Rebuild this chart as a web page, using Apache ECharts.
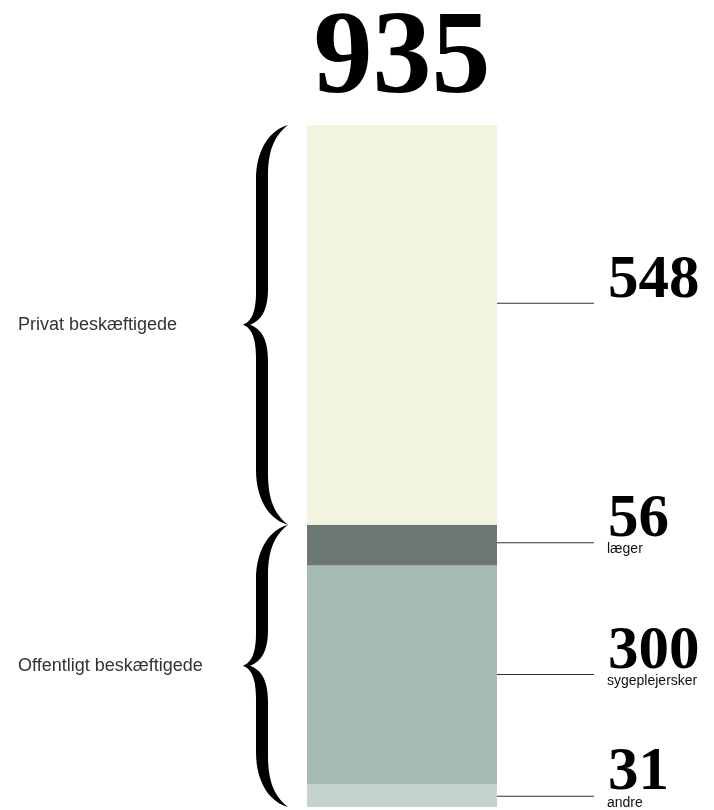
<!DOCTYPE html>
<html>
<head>
<meta charset="utf-8">
<script src="https://cdn.jsdelivr.net/npm/echarts@6/dist/echarts.min.js"></script>
<style>
  html, body { margin: 0; padding: 0; background: #fff; }
  #main { width: 714px; height: 810px; }
</style>
</head>
<body>
<div id="main"></div>
<script>
// data (bottom of the stack first)
const totalLabel = '935';
const segNames = ['andre', 'sygeplejersker', 'læger', 'privat'];
const segValues = [31, 300, 56, 548];
const segSubLabels = ['andre', 'sygeplejersker', 'læger', ''];
const groupNames = ['Offentligt beskæftigede', 'Privat beskæftigede'];
const groupSizes = [3, 1]; // how many segments each brace covers

// styles
const segColors = ['#c4d3cf', '#a5bab3', '#6b7872', '#f2f4e0'];
const labelOffsetY = [-16, -17, -19, -38];
const numFont = 'Liberation Serif';
const textFont = 'Liberation Sans';

// brace ranges [from, to] in value units, built from the segments
const groupRanges = [];
let acc = 0, k = 0;
groupSizes.forEach(function (n) {
  const from = acc;
  for (let j = 0; j < n; j++) acc += segValues[k++];
  groupRanges.push([from, acc]);
});

var myChart = echarts.init(document.getElementById('main'));

const series = segValues.map(function (v, i) {
  return {
    name: segNames[i],
    type: 'bar',
    stack: 'all',
    barWidth: '100%',
    data: [v],
    itemStyle: { color: segColors[i] },
    silent: true,
    label: {
      show: true,
      position: 'right',
      distance: 0,
      offset: [0, labelOffsetY[i]],
      formatter: '{ln|}{gap|}{num|' + v + '}\n{pad|}{sub|' + segSubLabels[i] + '}',
      rich: {
        ln: { width: 97, height: 1, backgroundColor: '#333', verticalAlign: 'bottom' },
        gap: { width: 14 },
        num: { fontFamily: numFont, fontWeight: 'bold', fontSize: 61, lineHeight: 46, color: '#000' },
        pad: { width: 110 },
        sub: { fontFamily: textFont, fontSize: 14, lineHeight: 12, color: '#111' }
      }
    }
  };
});

function bracePath(x, y0, y1) {
  const s1 = x + 13, s2 = x + 25, tip = x + 45, mid = (y0 + y1) / 2, c = 55, p = 32;
  return [
    'M', tip, y0,
    'C', x + 29, y0 + 4, s1, y0 + 22, s1, y0 + c,
    'L', s1, mid - p,
    'C', s1, mid - 12, x + 8, mid - 3, x, mid,
    'C', x + 8, mid + 3, s1, mid + 12, s1, mid + p,
    'L', s1, y1 - c,
    'C', s1, y1 - 22, x + 29, y1 - 4, tip, y1,
    'C', x + 35, y1 - 8, s2, y1 - 20, s2, y1 - c + 4,
    'L', s2, mid + p + 4,
    'C', s2, mid + 14, x + 18, mid + 4, x + 7, mid,
    'C', x + 18, mid - 4, s2, mid - 14, s2, mid - p - 4,
    'L', s2, y0 + c - 4,
    'C', s2, y0 + 20, x + 35, y0 + 8, tip, y0,
    'Z'
  ].join(' ');
}

// braces + group names, drawn through the value axis
series.push({
  type: 'custom',
  silent: true,
  data: groupRanges.map(function (r, g) { return [0, r[0], r[1], g]; }),
  encode: { x: 0, y: [1, 2] },
  renderItem: function (params, api) {
    const yBottom = api.coord([0, api.value(1)])[1];
    const yTop = api.coord([0, api.value(2)])[1];
    const g = api.value(3);
    return {
      type: 'group',
      children: [
        {
          type: 'path',
          shape: { pathData: bracePath(243, yTop, yBottom) },
          style: { fill: '#000' }
        },
        {
          type: 'text',
          x: 18,
          y: (yTop + yBottom) / 2,
          style: {
            text: groupNames[g],
            fontFamily: textFont,
            fontSize: 18,
            fill: '#333',
            verticalAlign: 'middle'
          }
        }
      ]
    };
  }
});

myChart.setOption({
  backgroundColor: '#fff',
  animation: false,
  grid: { left: 307, right: 217, top: 125, bottom: 3 },
  xAxis: { type: 'category', data: ['alle'], show: false },
  yAxis: { type: 'value', min: 0, max: 935, show: false },
  graphic: [{
    type: 'text',
    x: 402,
    y: 62,
    style: {
      text: totalLabel,
      fontFamily: numFont,
      fontWeight: 'bold',
      fontSize: 118,
      fill: '#000',
      align: 'center',
      verticalAlign: 'middle'
    }
  }],
  series: series
});
</script>
</body>
</html>
